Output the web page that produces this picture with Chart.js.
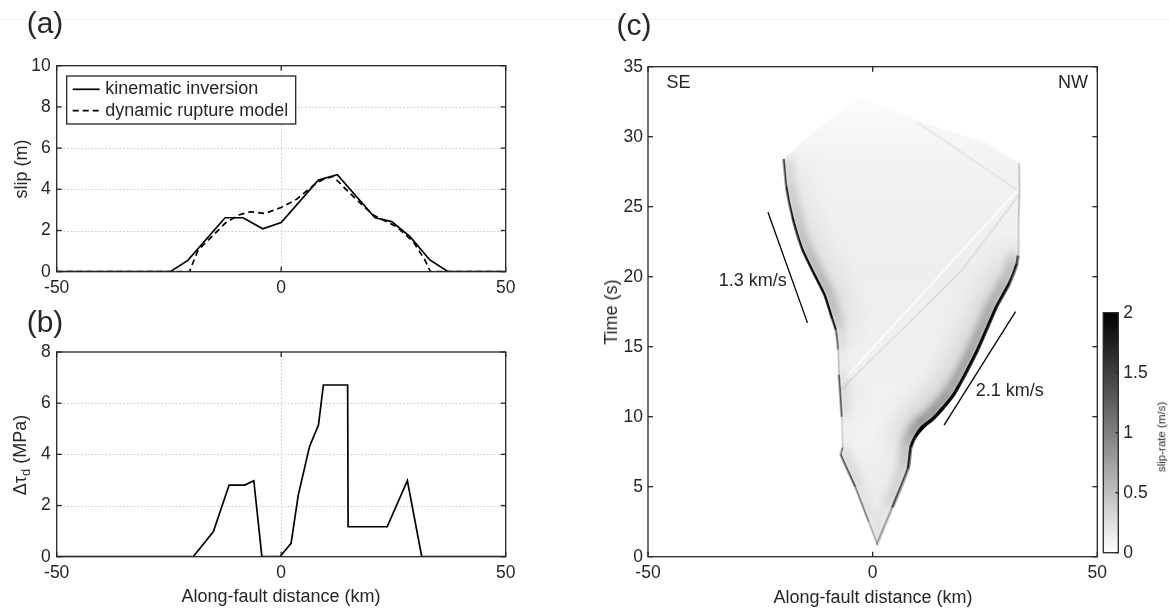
<!DOCTYPE html>
<html><head><meta charset="utf-8">
<script src="https://cdn.jsdelivr.net/npm/chart.js@4.4.1/dist/chart.umd.min.js"></script>
<style>
html,body{margin:0;padding:0;background:#fff;}
#wrap{position:relative;width:1169px;height:609px;overflow:hidden;font-family:"Liberation Sans",Arial,Helvetica,sans-serif;color:#262626;}
canvas{position:absolute;left:0;top:0;}
.t{position:absolute;white-space:nowrap;transform:translate(-50%,-50%);line-height:1;}
.r{transform:translate(-50%,-50%) rotate(-90deg);}
#topline{position:absolute;left:0;top:19px;width:1169px;height:1px;background:#eeeeee;}
</style></head>
<body><div id="wrap">
<div id="topline"></div>
<canvas id="ca" width="1169" height="609"></canvas>
<canvas id="cb" width="1169" height="609"></canvas>
<canvas id="cc" width="1169" height="609"></canvas>
<canvas id="cbar" width="1169" height="609"></canvas>
</div>
<script>
// ---------- DATA ----------
// Panel (a): slip along fault
const kinDist = [-50, -24.7, -20.8, -12.5, -8.5, -4.1, 0, 8.3, 12.5, 20.9, 24.6, 28.7, 33.1, 37.2, 50];
const kinSlip = [0, 0, 0.55, 2.62, 2.62, 2.08, 2.39, 4.45, 4.71, 2.62, 2.43, 1.70, 0.57, 0, 0];
const dynDist = [-50, -20.4, -19.9, -18.5, -15.1, -12.5, -9.5, -6.9, -3.6, 0, 3.4, 7.9, 9.4, 11.6, 16.1, 20.5, 25.7, 29.4, 32.0, 32.8, 33.2, 50];
const dynSlip = [0, 0, 0.30, 1.05, 1.78, 2.35, 2.75, 2.91, 2.83, 3.12, 3.51, 4.32, 4.48, 4.62, 3.64, 2.75, 2.18, 1.46, 0.57, 0.20, 0, 0];
// Panel (b): dynamic stress drop
const stressDist = [-50, -19.6, -15.1, -11.6, -8.1, -6.1, -4.3, -0.3, 2.2, 3.8, 6.3, 8.3, 9.4, 14.8, 14.9, 23.6, 28.1, 31.3, 50];
const stressDrop = [0, 0, 0.98, 2.80, 2.80, 2.97, 0, 0, 0.52, 2.41, 4.30, 5.15, 6.71, 6.71, 1.17, 1.17, 2.97, 0, 0];
// Panel (c): slip-rate space-time map (rupture area outline and fronts with peak slip-rate)
const ruptX = [1.0, 4.5, 8.0, 8.6, 9.5, 13.4, 18.4, 23.5, 27.6, 30.5, 32.2, 32.5, 32.5, 32.7, 32.6, 25, 15, 5, -3, -8, -14, -19.9, -19.3, -17.9, -15.8, -13.3, -10.8, -9.1, -8.3, -7.8, -7.6, -7.4, -7.0, -6.8, -7.2, -4, -1];
const ruptT = [0.8, 3.5, 6.3, 7.8, 8.5, 9.8, 11.7, 14.8, 17.8, 19.5, 20.9, 21.5, 24.2, 26.1, 28.1, 29.6, 30.6, 31.8, 32.8, 31.6, 30.1, 28.4, 26.4, 24.2, 22.0, 20.3, 18.7, 17.0, 16.2, 14.8, 13.0, 12.0, 10.0, 7.8, 7.3, 5.0, 2.5];
const rightFrontX = [1.0, 4.5, 8.0, 8.6, 9.5, 11.0, 13.4, 16.0, 18.4, 23.5, 27.6, 30.5, 32.2, 32.5];
const rightFrontT = [0.8, 3.5, 6.3, 7.8, 8.5, 9.2, 9.8, 10.7, 11.7, 14.8, 17.8, 19.5, 20.9, 21.5];
const rightFrontRate = [0.1, 0.4, 0.9, 1.1, 1.6, 2.0, 2.0, 1.9, 1.8, 1.6, 1.5, 1.2, 0.9, 0.5];
const leftFrontX = [-19.9, -19.3, -17.9, -15.8, -13.3, -10.8, -9.1, -8.3, -7.8, -7.6, -7.4, -7.0, -6.8, -7.2, -4.0, -1.0, 1.0];
const leftFrontT = [28.4, 26.4, 24.2, 22.0, 20.3, 18.7, 17.0, 16.2, 14.8, 13.0, 12.0, 10.0, 7.8, 7.3, 5.0, 2.5, 0.8];
const leftFrontRate = [0.6, 0.9, 1.15, 1.4, 1.5, 1.5, 1.2, 0.8, 0.15, 0.15, 1.0, 0.1, 0.1, 0.8, 0.45, 0.3, 0.1];
const stopEdgeX = [32.5, 32.5, 32.7, 32.6];
const stopEdgeT = [21.5, 24.2, 26.1, 28.1];
const stopEdgeRate = [0.5, 0.2, 0.6, 0.2];
const lightStreakX = [-7.4, 32.6];
const lightStreakT = [12.3, 26.3];
const grayStreakX = [-7.4, 20, 32.7];
const grayStreakT = [11.8, 20.5, 25.9];
const grayStreak2X = [10, 32.7];
const grayStreak2T = [31.0, 26.1];
const speed13X = [-23.3, -14.5];
const speed13T = [24.6, 16.7];
const speed21X = [15.9, 31.8];
const speed21T = [9.4, 17.5];
// Tick labels
const distTicks = [-50, 0, 50];
const slipTicks = [0, 2, 4, 6, 8, 10];
const stressTicks = [0, 2, 4, 6, 8];
const timeTicks = [0, 5, 10, 15, 20, 25, 30, 35];
const rateTicks = [0, 0.5, 1, 1.5, 2];
// Labels
const legendLabels = ['kinematic inversion', 'dynamic rupture model'];
const annotations = [
  {text: '1.3 km/s', x: -26.7, t: 19.8},
  {text: '2.1 km/s', x: 30.5, t: 11.9},
  {text: 'SE', x: -43.2, t: 33.9},
  {text: 'NW', x: 44.6, t: 33.9}
];

// ---------- HELPERS ----------
const FONT = '"Liberation Sans", Arial, Helvetica, sans-serif';
const TICK = 17.5;
Chart.defaults.font.family = FONT;
Chart.defaults.color = '#262626';
const INK = '#262626';
function pts(xs, ys) { return xs.map((x, i) => ({x: x, y: ys[i]})); }
function rateAlpha(r) { return 'rgba(0,0,0,' + (Math.max(0, Math.min(2, r)) / 2).toFixed(3) + ')'; }

const matlabAxes = {
  id: 'matlabAxes',
  beforeDatasetsDraw(chart, args, o) {
    if (!o.grid) return;
    const ctx = chart.ctx, a = chart.chartArea, sx = chart.scales.x, sy = chart.scales.y;
    ctx.save(); ctx.strokeStyle = '#c8c8c8'; ctx.lineWidth = 1; ctx.setLineDash([1.5, 2]);
    sy.ticks.forEach(t => { const p = Math.round(sy.getPixelForValue(t.value)) + 0.5;
      if (p > a.top + 2 && p < a.bottom - 2) { ctx.beginPath(); ctx.moveTo(a.left, p); ctx.lineTo(a.right, p); ctx.stroke(); } });
    sx.ticks.forEach(t => { const p = Math.round(sx.getPixelForValue(t.value)) + 0.5;
      if (p > a.left + 2 && p < a.right - 2) { ctx.beginPath(); ctx.moveTo(p, a.top); ctx.lineTo(p, a.bottom); ctx.stroke(); } });
    ctx.restore();
  },
  afterDraw(chart, args, o) {
    const ctx = chart.ctx, a = chart.chartArea; const L = o.tick || 5;
    ctx.save(); ctx.strokeStyle = INK; ctx.lineWidth = 1.3; ctx.setLineDash([]);
    if (o.yTicks !== false) {
      const sy = chart.scales.y;
      sy.ticks.forEach(t => { const p = sy.getPixelForValue(t.value);
        if (o.left !== false) { ctx.beginPath(); ctx.moveTo(a.left, p); ctx.lineTo(a.left + L, p); ctx.stroke(); }
        if (o.right !== false) { ctx.beginPath(); ctx.moveTo(a.right, p); ctx.lineTo(a.right - L, p); ctx.stroke(); } });
    }
    if (o.xTicks !== false) {
      const sx = chart.scales.x;
      sx.ticks.forEach(t => { const p = sx.getPixelForValue(t.value);
        ctx.beginPath(); ctx.moveTo(p, a.bottom); ctx.lineTo(p, a.bottom - L); ctx.stroke();
        ctx.beginPath(); ctx.moveTo(p, a.top); ctx.lineTo(p, a.top + L); ctx.stroke(); });
    }
    ctx.strokeRect(a.left, a.top, a.right - a.left, a.bottom - a.top);
    ctx.restore();
  }
};

const boxLegend = {
  id: 'boxLegend',
  afterDatasetsDraw(chart, args, o) {
    if (!o || !o.display) return;
    const ctx = chart.ctx, a = chart.chartArea;
    const x0 = a.left + o.dx, y0 = a.top + o.dy;
    ctx.save();
    ctx.fillStyle = '#fff'; ctx.fillRect(x0, y0, o.w, o.h);
    ctx.strokeStyle = INK; ctx.lineWidth = 1.3; ctx.strokeRect(x0, y0, o.w, o.h);
    chart.data.datasets.forEach((ds, i) => {
      const yy = y0 + o.rowTop + i * o.rowH;
      ctx.strokeStyle = ds.borderColor; ctx.lineWidth = ds.borderWidth; ctx.setLineDash(ds.borderDash || []);
      ctx.beginPath(); ctx.moveTo(x0 + o.lx0, yy); ctx.lineTo(x0 + o.lx1, yy); ctx.stroke();
      ctx.setLineDash([]);
      ctx.fillStyle = INK; ctx.font = o.size + 'px ' + FONT; ctx.textBaseline = 'middle'; ctx.textAlign = 'left';
      ctx.fillText(ds.label, x0 + o.tx, yy);
    });
    ctx.restore();
  }
};

// soft glow of the slip-rate fronts, clipped to the rupture area
const frontGlow = {
  id: 'frontGlow',
  beforeDatasetDraw(chart, args) {
    const ds = chart.data.datasets[args.index];
    if (!ds.glow) return;
    const ctx = chart.ctx, sx = chart.scales.x, sy = chart.scales.y;
    ctx.save();
    ctx.beginPath();
    ruptX.forEach((x, i) => { const px = sx.getPixelForValue(x), py = sy.getPixelForValue(ruptT[i]); if (i) ctx.lineTo(px, py); else ctx.moveTo(px, py); });
    ctx.closePath(); ctx.clip();
    ctx.shadowColor = ds.glow.color; ctx.shadowBlur = ds.glow.blur; ctx.shadowOffsetX = ds.glow.dx; ctx.shadowOffsetY = ds.glow.dy;
  },
  afterDatasetDraw(chart, args) {
    if (chart.data.datasets[args.index].glow) chart.ctx.restore();
  }
};

function scalesFor(c) {
  return {
    x: { type: 'linear', min: c.xmin, max: c.xmax,
      afterBuildTicks: s => { s.ticks = c.xt.map(v => ({value: v})); },
      ticks: { font: {size: TICK}, padding: c.xpad, maxRotation: 0, autoSkip: false, color: INK, callback: v => String(v) },
      grid: {display: false, drawTicks: false}, border: {display: false},
      afterFit: s => { s.height = c.xh; s.paddingLeft = 0; s.paddingRight = 0; } },
    y: { type: 'linear', min: c.ymin, max: c.ymax, position: 'left',
      afterBuildTicks: s => { s.ticks = c.yt.map(v => ({value: v})); },
      ticks: { font: {size: TICK}, padding: c.ypad, autoSkip: false, color: INK, callback: v => String(v) },
      grid: {display: false, drawTicks: false}, border: {display: false},
      afterFit: s => { s.width = c.yw; s.paddingTop = 0; s.paddingBottom = 0; } }
  };
}
function padFor(L, R, T, B, yw, xh) {
  return {left: L - yw, right: 1169 - R, top: T, bottom: 609 - B - xh};
}
const base = {responsive: false, animation: false, devicePixelRatio: 1, events: []};

// ---------- PANEL (a) ----------
new Chart(document.getElementById('ca'), {
  type: 'scatter',
  data: { datasets: [
    {label: legendLabels[0], data: pts(kinDist, kinSlip), showLine: true, borderColor: '#000', borderWidth: 1.7, pointRadius: 0, tension: 0},
    {label: legendLabels[1], data: pts(dynDist, dynSlip), showLine: true, borderColor: '#000', borderWidth: 1.7, borderDash: [6, 4], pointRadius: 0, tension: 0}
  ]},
  options: Object.assign({}, base, {
    layout: {padding: padFor(56.7, 505.7, 65.7, 271.7, 50, 30)},
    scales: scalesFor({xmin: -50, xmax: 50, xt: distTicks, xpad: 6, xh: 30, ymin: 0, ymax: 10, yt: slipTicks, ypad: 6, yw: 50}),
    plugins: { legend: {display: false}, tooltip: {enabled: false},
      matlabAxes: {grid: true},
      boxLegend: {display: true, dx: 10, dy: 10.3, w: 229, h: 48, rowTop: 13.3, rowH: 21.4, lx0: 6, lx1: 33, tx: 38.5, size: 18} }
  }),
  plugins: [matlabAxes, boxLegend]
});

// ---------- PANEL (b) ----------
new Chart(document.getElementById('cb'), {
  type: 'scatter',
  data: { datasets: [
    {label: 'stress drop', data: pts(stressDist, stressDrop), showLine: true, borderColor: '#000', borderWidth: 1.7, pointRadius: 0, tension: 0}
  ]},
  options: Object.assign({}, base, {
    layout: {padding: padFor(56.7, 505.7, 352, 556.7, 50, 30)},
    scales: scalesFor({xmin: -50, xmax: 50, xt: distTicks, xpad: 6, xh: 30, ymin: 0, ymax: 8, yt: stressTicks, ypad: 6, yw: 50}),
    plugins: { legend: {display: false}, tooltip: {enabled: false}, matlabAxes: {grid: true} }
  }),
  plugins: [matlabAxes]
});

// ---------- PANEL (c) ----------
function gradFill(p0, p1, stops) {
  return c => {
    const ch = c.chart, sx = ch.scales.x, sy = ch.scales.y;
    if (!ch.chartArea || !sx || !sy) return 'rgba(0,0,0,0)';
    const g = ch.ctx.createLinearGradient(sx.getPixelForValue(p0[0]), sy.getPixelForValue(p0[1]), sx.getPixelForValue(p1[0]), sy.getPixelForValue(p1[1]));
    stops.forEach(s => g.addColorStop(s[0], s[1]));
    return g;
  };
}
function poly(xs, ts, color, order) {
  return {data: pts(xs, ts), showLine: true, fill: 'shape', backgroundColor: color, borderWidth: 0, borderColor: 'rgba(0,0,0,0)', pointRadius: 0, tension: 0, order: order};
}
function front(xs, ts, rates, width, order, glow) {
  return {data: pts(xs, ts), showLine: true, borderWidth: width, pointRadius: 0, tension: 0.2, order: order, glow: glow,
    borderColor: rateAlpha(rates[0]), borderCapStyle: 'butt', borderJoinStyle: 'round',
    segment: { borderColor: s => rateAlpha((rates[s.p0DataIndex] + rates[s.p1DataIndex]) / 2) }};
}
function plainLine(xs, ts, color, width, order) {
  return {data: pts(xs, ts), showLine: true, borderColor: color, borderWidth: width, pointRadius: 0, tension: 0, order: order};
}
const chartC = new Chart(document.getElementById('cc'), {
  type: 'scatter',
  data: { datasets: [
    poly(ruptX, ruptT, gradFill([0, 8], [0, 33], [[0, '#f2f2f2'], [0.5, '#eeeeee'], [0.8, '#f2f2f2'], [1, '#fcfcfc']]), 20),
    plainLine(lightStreakX, lightStreakT, 'rgba(255,255,255,0.75)', 2, 16),
    plainLine(grayStreakX, grayStreakT, 'rgba(0,0,0,0.07)', 2, 15),
    plainLine(grayStreak2X, grayStreak2T, 'rgba(0,0,0,0.05)', 2, 15),
    front(leftFrontX, leftFrontT, leftFrontRate, 3, 13, {color: 'rgba(0,0,0,0.7)', blur: 26, dx: 12, dy: -2}),
    front(rightFrontX, rightFrontT, rightFrontRate, 4, 13, {color: 'rgba(0,0,0,0.7)', blur: 26, dx: -11, dy: -7}),
    front(leftFrontX, leftFrontT, leftFrontRate, 3, 12, {color: 'rgba(0,0,0,0.9)', blur: 10, dx: 5, dy: -1}),
    front(rightFrontX, rightFrontT, rightFrontRate, 4, 12, {color: 'rgba(0,0,0,0.9)', blur: 10, dx: -5, dy: -3}),
    front(leftFrontX, leftFrontT, leftFrontRate, 2, 10),
    front(rightFrontX, rightFrontT, rightFrontRate, 2.6, 10),
    front(stopEdgeX, stopEdgeT, stopEdgeRate, 2, 10),
    plainLine(speed13X, speed13T, '#000', 1.3, 1),
    plainLine(speed21X, speed21T, '#000', 1.3, 1)
  ]},
  options: Object.assign({}, base, {
    layout: {padding: padFor(648, 1097.3, 66.7, 556.7, 60, 30)},
    scales: scalesFor({xmin: -50, xmax: 50, xt: distTicks, xpad: 6, xh: 30, ymin: 0, ymax: 35, yt: timeTicks, ypad: 5, yw: 60}),
    plugins: { legend: {display: false}, tooltip: {enabled: false}, matlabAxes: {grid: false} }
  }),
  plugins: [frontGlow, matlabAxes]
});

// ---------- COLORBAR ----------
new Chart(document.getElementById('cbar'), {
  type: 'bar',
  data: { labels: ['slip-rate'], datasets: [{ data: [rateTicks[rateTicks.length - 1]], barPercentage: 1, categoryPercentage: 1, borderWidth: 0,
    backgroundColor: c => { const ca = c.chart.chartArea; if (!ca) return '#888';
      const g = c.chart.ctx.createLinearGradient(0, ca.bottom, 0, ca.top); g.addColorStop(0, '#ffffff'); g.addColorStop(1, '#000000'); return g; } }]},
  options: Object.assign({}, base, {
    layout: {padding: {left: 1103.3, right: 1169 - 1118.3 - 40, top: 312.7, bottom: 609 - 552.7}},
    scales: {
      x: {display: false},
      y: { type: 'linear', min: 0, max: 2, position: 'right',
        afterBuildTicks: s => { s.ticks = rateTicks.map(v => ({value: v})); },
        ticks: {font: {size: TICK}, padding: 5, color: INK, callback: v => String(v)},
        grid: {display: false, drawTicks: false}, border: {display: false},
        afterFit: s => { s.width = 40; s.paddingTop = 0; s.paddingBottom = 0; } }
    },
    plugins: { legend: {display: false}, tooltip: {enabled: false}, matlabAxes: {grid: false, xTicks: false, left: false, tick: 3} }
  }),
  plugins: [matlabAxes]
});

// ---------- TEXT ----------
const wrap = document.getElementById('wrap');
function addText(html, x, y, size, rot) {
  const d = document.createElement('div'); d.className = 't' + (rot ? ' r' : '');
  d.innerHTML = html; d.style.left = x + 'px'; d.style.top = y + 'px'; d.style.fontSize = size + 'px';
  wrap.appendChild(d); return d;
}
addText('(a)', 45, 23, 30);
addText('(b)', 45, 322, 30);
addText('(c)', 634, 25, 30);
addText('slip (m)', 21, 168.7, 18, true);
addText('Δτ<sub style="font-size:13px;vertical-align:-4px">d</sub> (MPa)', 21, 455, 18, true);
addText('Along-fault distance (km)', 281, 596, 18);
addText('Along-fault distance (km)', 873, 597, 18);
addText('Time (s)', 611, 312, 18, true);
addText('slip-rate (m/s)', 1161.7, 436.7, 11.5, true);
const sxC = chartC.scales.x, syC = chartC.scales.y;
annotations.forEach(an => addText(an.text, sxC.getPixelForValue(an.x), syC.getPixelForValue(an.t), 18));
</script>
</body></html>
